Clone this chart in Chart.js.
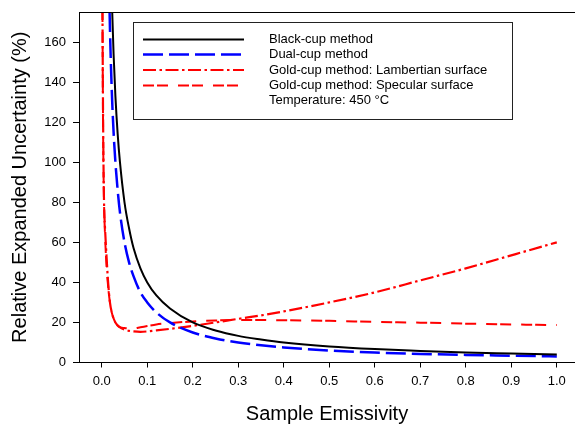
<!DOCTYPE html>
<html>
<head>
<meta charset="utf-8">
<script src="https://cdn.jsdelivr.net/npm/chart.js@4.4.1/dist/chart.umd.min.js"></script>
<style>
  html, body { margin: 0; padding: 0; background: #fff; }
  #wrap { width: 575px; height: 427px; }
</style>
</head>
<body>
<div id="wrap"><canvas id="uncChart" width="575" height="427"></canvas></div>
<script>
// sample emissivity (x) and relative expanded uncertainty in % (y)
const emissivity = [0.001, 0.003, 0.005, 0.007, 0.01, 0.014, 0.018, 0.022, 0.026, 0.03,
                    0.035, 0.04, 0.05, 0.06, 0.07, 0.085, 0.1, 0.12, 0.15, 0.2,
                    0.25, 0.3, 0.35, 0.4, 0.5, 0.6, 0.7, 0.8, 0.9, 1.0];
const blackCup   = [null, null, null, null, null, null, 222, 182, 154, 133,
                    114, 100, 80, 67, 57, 47, 40, 33.5, 27, 20,
                    16, 13.3, 11.5, 10, 8, 6.7, 5.8, 5, 4.5, 4];
const dualCup    = [null, null, null, null, null, 214, 167, 136, 115, 100,
                    86, 75, 60, 50, 43, 35, 30, 25, 20, 15,
                    12, 10, 8.6, 7.5, 6, 5, 4.3, 3.8, 3.4, 3];
const goldLamb   = [200, 120, 80, 68, 55, 40, 30, 25, 22, 20,
                    18.5, 17.5, 16.5, 15.8, 15.5, 15.3, 15.5, 16, 16.8, 18.3,
                    20, 21.8, 23.5, 25.5, 30, 35, 41, 47, 53.5, 60];
const goldSpec   = [200, 115, 80, 65, 50, 38, 30, 25, 22, 20,
                    18.5, 17.7, 17.2, 17, 17, 17.6, 18.2, 19, 19.7, 20.5,
                    21, 21.2, 21.2, 21.1, 20.8, 20.3, 19.9, 19.4, 19, 18.7];

const seriesLabels = ['Black-cup method', 'Dual-cup method',
                      'Gold-cup method: Lambertian surface', 'Gold-cup method: Specular surface'];
const legendNote = 'Temperature: 450 \u00B0C';

const xTicks = [0.0, 0.1, 0.2, 0.3, 0.4, 0.5, 0.6, 0.7, 0.8, 0.9, 1.0];
const yTicks = [0, 20, 40, 60, 80, 100, 120, 140, 160];

const FONT = "'Liberation Sans', Arial, sans-serif";

function toPoints(vals) {
    const pts = [];
    vals.forEach(function (v, i) {
        if (v !== null) pts.push({ x: emissivity[i], y: v });
    });
    return pts;
}

const styles = [
    { color: '#000000', width: 2,   dash: [] },
    { color: '#0000ff', width: 2.5, dash: [20, 6] },
    { color: '#ff0000', width: 2.2, dash: [13, 3.5, 2.5, 3.5] },
    { color: '#ff0000', width: 2,   dash: [11, 3, 11, 10] }
];
const series = [blackCup, dualCup, goldLamb, goldSpec];

// legend box drawn inside the plot, plus the top frame line
const boxLegend = {
    id: 'boxLegend',
    afterDraw(chart) {
        const ctx = chart.ctx;
        const area = chart.chartArea;
        ctx.save();
        // top frame line
        ctx.strokeStyle = '#000';
        ctx.lineWidth = 1;
        ctx.beginPath();
        ctx.moveTo(area.left, area.top + 0.5);
        ctx.lineTo(area.right, area.top + 0.5);
        ctx.stroke();

        const bx = area.left + 54, by = area.top + 10, bw = 379, bh = 97;
        ctx.fillStyle = '#fff';
        ctx.fillRect(bx, by, bw, bh);
        ctx.strokeStyle = '#222';
        ctx.lineWidth = 1;
        ctx.strokeRect(bx + 0.5, by + 0.5, bw, bh);

        const rows = [27.5, 42.5, 58, 73.5, 88.5];
        ctx.font = '13px ' + FONT;
        ctx.textBaseline = 'middle';
        ctx.textAlign = 'left';
        ctx.fillStyle = '#000';
        styles.forEach(function (s, i) {
            const y = area.top + rows[i];
            ctx.strokeStyle = s.color;
            ctx.lineWidth = s.width;
            ctx.setLineDash(s.dash);
            ctx.beginPath();
            ctx.moveTo(bx + 10, y);
            ctx.lineTo(bx + 111, y);
            ctx.stroke();
            ctx.setLineDash([]);
            ctx.fillText(seriesLabels[i], bx + 136, y);
        });
        ctx.fillText(legendNote, bx + 136, area.top + rows[4]);
        ctx.restore();
    }
};

document.addEventListener('DOMContentLoaded', function () {
    const ctx = document.getElementById('uncChart').getContext('2d');

    const datasets = series.map(function (vals, i) {
        return {
            label: seriesLabels[i],
            data: toPoints(vals),
            borderColor: styles[i].color,
            borderWidth: styles[i].width,
            borderDash: styles[i].dash,
            pointRadius: 0,
            fill: false,
            cubicInterpolationMode: 'monotone'
        };
    });

    new Chart(ctx, {
        type: 'line',
        data: { datasets: datasets },
        options: {
            responsive: false,
            animation: false,
            devicePixelRatio: 1,
            layout: { padding: { top: 12, right: 0, bottom: 0, left: 0 } },
            plugins: {
                legend: { display: false },
                tooltip: { enabled: false }
            },
            scales: {
                x: {
                    type: 'linear',
                    min: -0.05,
                    max: 1.04,
                    afterBuildTicks: function (axis) {
                        axis.ticks = xTicks.map(function (v) { return { value: v }; });
                    },
                    afterFit: function (scale) {
                        scale.height = 64.5;
                        scale.paddingLeft = 0;
                        scale.paddingRight = 0;
                    },
                    grid: { display: true, drawOnChartArea: false, drawTicks: true, tickLength: 5, color: '#000' },
                    border: { display: true, color: '#000', width: 1 },
                    ticks: {
                        color: '#000',
                        padding: 6,
                        maxRotation: 0,
                        font: { family: FONT, size: 13 },
                        callback: function (v) { return Number(v).toFixed(1); }
                    },
                    title: {
                        display: true,
                        text: 'Sample Emissivity',
                        color: '#000',
                        font: { family: FONT, size: 20, lineHeight: 1.3 },
                        padding: 0
                    }
                },
                y: {
                    type: 'linear',
                    min: 0,
                    max: 175,
                    afterBuildTicks: function (axis) {
                        axis.ticks = yTicks.map(function (v) { return { value: v }; });
                    },
                    afterFit: function (scale) {
                        scale.width = 79;
                        scale.paddingTop = 0;
                        scale.paddingBottom = 0;
                    },
                    grid: { display: true, drawOnChartArea: false, drawTicks: true, tickLength: 6, color: '#000' },
                    border: { display: true, color: '#000', width: 1 },
                    ticks: {
                        color: '#000',
                        padding: 7,
                        font: { family: FONT, size: 13 }
                    },
                    title: {
                        display: true,
                        text: 'Relative Expanded Uncertainty (%)',
                        color: '#000',
                        font: { family: FONT, size: 20, lineHeight: 2 },
                        padding: 0
                    }
                }
            }
        },
        plugins: [boxLegend]
    });
});
</script>
</body>
</html>
